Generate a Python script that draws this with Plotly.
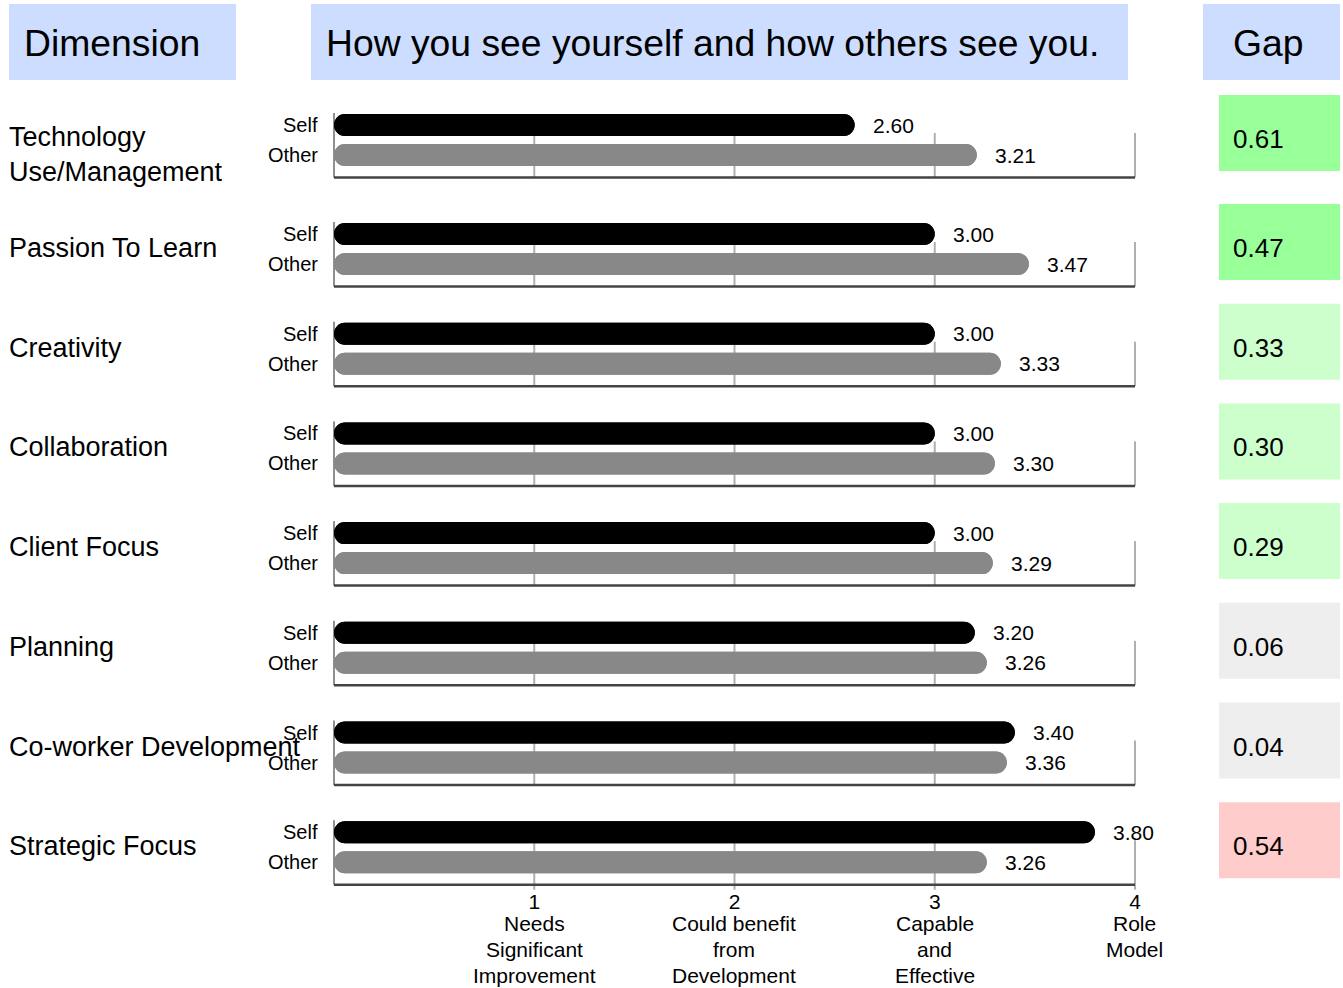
import plotly.graph_objects as go

# ---------------- data ----------------
dimensions = ["Technology<br>Use/Management", "Passion To Learn", "Creativity", "Collaboration",
              "Client Focus", "Planning", "Co-worker Development", "Strategic Focus"]
self_scores = [2.60, 3.00, 3.00, 3.00, 3.00, 3.20, 3.40, 3.80]
other_scores = [3.21, 3.47, 3.33, 3.30, 3.29, 3.26, 3.36, 3.26]
gaps = [0.61, 0.47, 0.33, 0.30, 0.29, 0.06, -0.04, -0.54]
series_names = ["Self", "Other"]
tick_values = [1, 2, 3, 4]
tick_numbers = ["1", "2", "3", "4"]
tick_descriptions = [["Needs", "Significant", "Improvement"],
                     ["Could benefit", "from", "Development"],
                     ["Capable", "and", "Effective"],
                     ["Role", "Model"]]
headers = ["Dimension", "How you see yourself and how others see you.", "Gap"]

# ---------------- layout helpers ----------------
W, H = 1343, 988
FONT = "Liberation Sans, Arial, sans-serif"
PX_PER_UNIT = 200.25
X_ZERO_PX = 334
XR = [-0.05, 4.05]
dom_l = (X_ZERO_PX + XR[0] * PX_PER_UNIT) / W
dom_r = (X_ZERO_PX + XR[1] * PX_PER_UNIT) / W

n = len(dimensions)


def row_y(i):
    return 125 if i == 0 else 234 + 99.7 * (i - 1)


self_y = [row_y(i) for i in range(n)]
other_y = [y + 30 for y in self_y]
BAR_COLORS = {"Self": "#000000", "Other": "#888888"}


def gap_color(g):
    if g >= 0.4:
        return "#99FF99"
    if g >= 0.2:
        return "#CCFFCC"
    if g > -0.2:
        return "#EEEEEE"
    if g > -0.4:
        return "#FFE3E3"
    return "#FFCCCC"


fig = go.Figure()

# bars: each drawn twice (forward and backward) so both ends are rounded
for name, vals, ys in (("Self", self_scores, self_y), ("Other", other_scores, other_y)):
    fig.add_trace(go.Bar(
        orientation="h", x=vals, y=ys, base=[0] * n, width=22,
        marker=dict(color=BAR_COLORS[name], line=dict(width=0), cornerradius=11),
        name=name, showlegend=False, hoverinfo="x"))
    fig.add_trace(go.Bar(
        orientation="h", x=[-v for v in vals], y=ys, base=vals, width=22,
        marker=dict(color=BAR_COLORS[name], line=dict(width=0), cornerradius=11),
        name=name, showlegend=False, hoverinfo="skip"))

shapes = []
annotations = []

# header boxes
header_boxes = [(9, 236, 22), (311, 1128, 324), (1203, 1340, 1231)]
for text, (bx0, bx1, tx) in zip(headers, header_boxes):
    shapes.append(dict(type="rect", xref="paper", yref="y", x0=bx0 / W, x1=bx1 / W, y0=4, y1=80,
                       fillcolor="#CCDDFF", line=dict(width=0), layer="below"))
    annotations.append(dict(text=text, xref="paper", yref="y", x=tx / W, y=43, xanchor="left",
                            yanchor="middle", showarrow=False,
                            font=dict(size=37.3, color="#000", family=FONT)))

for i in range(n):
    sy = self_y[i]
    base_y = sy + 52.5
    last = (i == n - 1)
    # left axis line
    shapes.append(dict(type="line", xref="x", yref="y", x0=0, x1=0, y0=sy - 12, y1=base_y,
                       line=dict(color="#909090", width=2), layer="below"))
    # vertical grid lines (last row also gets small tick marks below the axis)
    for tv in tick_values:
        shapes.append(dict(type="line", xref="x", yref="y", x0=tv, x1=tv, y0=sy + 8,
                           y1=base_y + (5 if last else 0),
                           line=dict(color="#B0B0B0", width=2), layer="below"))
    # baseline
    shapes.append(dict(type="line", xref="x", yref="y", x0=0, x1=4, y0=base_y, y1=base_y,
                       line=dict(color="#444444", width=2.5), layer="below"))
    # gap box
    shapes.append(dict(type="rect", xref="paper", yref="y", x0=1219 / W, x1=1340 / W,
                       y0=sy - 30, y1=sy + 46, fillcolor=gap_color(gaps[i]),
                       line=dict(width=0), layer="below"))
    annotations.append(dict(text=f"{abs(gaps[i]):.2f}", xref="paper", yref="y", x=1231 / W, y=sy + 14,
                            xanchor="left", yanchor="middle", showarrow=False,
                            font=dict(size=26, color="#000", family=FONT)))
    # dimension label
    nlines = dimensions[i].count("<br>") + 1
    annotations.append(dict(text=dimensions[i], xref="paper", yref="y", x=7 / W,
                            y=sy + 14 + 15 * (nlines - 1), xanchor="left", yanchor="middle",
                            align="left", showarrow=False, font=dict(size=27, color="#000", family=FONT)))
    # series labels and values
    for name, vals, ys in (("Self", self_scores, self_y), ("Other", other_scores, other_y)):
        annotations.append(dict(text=name, xref="paper", yref="y", x=320 / W, y=ys[i],
                                xanchor="right", yanchor="middle", showarrow=False,
                                font=dict(size=20, color="#000", family=FONT)))
        annotations.append(dict(text=f"{vals[i]:.2f}", xref="x", yref="y", x=vals[i], xshift=16,
                                y=ys[i], xanchor="left", yanchor="middle", showarrow=False,
                                font=dict(size=21, color="#000", family=FONT)))

axis_y_px = self_y[-1] + 52.5

# descriptive lines under each tick number
for tv, lines in zip(tick_values, tick_descriptions):
    for k, line in enumerate(lines):
        annotations.append(dict(text=line, xref="x", yref="y", x=tv, y=axis_y_px + 39 + 26 * k,
                                xanchor="center", yanchor="middle", showarrow=False,
                                font=dict(size=21, color="#000", family=FONT)))

fig.update_layout(
    width=W, height=H, autosize=False,
    margin=dict(l=0, r=0, t=0, b=0, pad=0, autoexpand=False),
    paper_bgcolor="white", plot_bgcolor="white",
    barmode="overlay", showlegend=False,
    font=dict(family=FONT, color="#000"),
    xaxis=dict(domain=[dom_l, dom_r], range=XR, anchor="free", position=1 - axis_y_px / H,
               tickvals=tick_values, ticktext=tick_numbers, ticks="", automargin=False,
               ticklabelstandoff=2,
               showgrid=False, zeroline=False, showline=False,
               tickfont=dict(size=21, color="#000", family=FONT), fixedrange=True),
    yaxis=dict(domain=[0, 1], range=[H, 0], visible=False, fixedrange=True, automargin=False),
    shapes=shapes, annotations=annotations,
)

fig.write_html("out.html")
